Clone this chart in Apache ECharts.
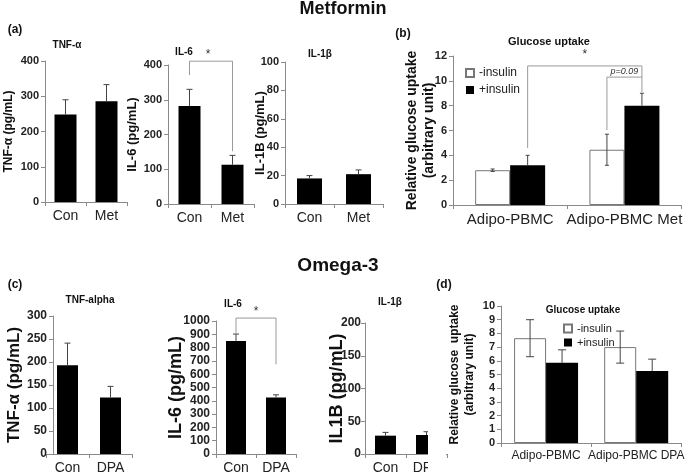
<!DOCTYPE html>
<html><head><meta charset="utf-8">
<script src="https://cdn.jsdelivr.net/npm/echarts@6/dist/echarts.min.js"></script>
<style>html,body{margin:0;padding:0;background:#fff}#c{width:685px;height:475px}</style>
</head><body><div id="c"></div>
<script>
// ---------- data ----------
const cytoCatsMet = ['Con', 'Met'];
const cytoCatsDpa = ['Con', 'DPA'];
const glucCatsMet = ['Adipo-PBMC', 'Adipo-PBMC Met'];
const glucCatsDpa = ['Adipo-PBMC', 'Adipo-PBMC DPA'];

const metTnfVals = [248, 286];  const metTnfErr = [42, 47];
const metIl6Vals = [282, 113];  const metIl6Err = [48, 27];
const metIl1Vals = [18, 21];    const metIl1Err = [2, 3];
const metGlucMinus = [2.8, 4.45]; const metGlucMinusErr = [0.1, 1.25];
const metGlucPlus = [3.2, 8.0];   const metGlucPlusErr = [0.8, 1.0];

const dpaTnfVals = [193, 123];  const dpaTnfErr = [48, 24];
const dpaIl6Vals = [850, 425];  const dpaIl6Err = [52, 20];
const dpaIl1Vals = [28, 29];    const dpaIl1Err = [5, 5];
const dpaGlucMinus = [7.65, 7.0]; const dpaGlucMinusErr = [1.35, 1.17];
const dpaGlucPlus = [5.85, 5.25]; const dpaGlucPlusErr = [0.95, 0.87];

// significance brackets: [bar level, left foot, right foot] in axis units
const metIl6Bracket = [411, 371, 152];
const metGlucBracket = [11.2, 4.6, 9.1];
const metGlucPBracket = [10.3, 6.04, 10.3];
const dpaIl6Bracket = [1022, 911, 674];

// ---------- helpers ----------
const FONT = '"Liberation Sans", Arial, sans-serif';
const AX = '#8a8a8a';

function xAx(g, cats, fs) {
  return { type: 'category', gridIndex: g, data: cats,
    axisLine: { lineStyle: { color: AX } },
    axisTick: { show: true, length: 4, lineStyle: { color: AX } },
    axisLabel: { fontSize: fs, color: '#222', margin: 7, fontFamily: FONT, interval: 0 } };
}
function yAx(g, max, interval, name, fs, nameFs, gap, offset, margin) {
  return { type: 'value', gridIndex: g, min: 0, max: max, interval: interval, offset: offset || 0,
    splitLine: { show: false },
    axisLine: { show: true, lineStyle: { color: AX } },
    axisTick: { show: true, length: 4, lineStyle: { color: AX } },
    axisLabel: { fontSize: fs, fontWeight: 'bold', color: '#222', margin: margin || 6, fontFamily: FONT,
      formatter: function (v) { return String(v); } },
    name: name, nameLocation: 'middle', nameRotate: 90, nameGap: gap, nameMoveOverlap: false,
    nameTextStyle: { fontSize: nameFs, fontWeight: 'bold', color: '#111', fontFamily: FONT, lineHeight: nameFs + 3 } };
}
function bar(g, name, vals, bw, white) {
  return { type: 'bar', name: name, xAxisIndex: g, yAxisIndex: g, data: vals, barWidth: bw, barGap: '0%',
    itemStyle: white ? { color: '#fff', borderColor: '#777', borderWidth: 1 } : { color: '#000' },
    emphasis: { disabled: true }, z: 2 };
}
function errBars(g, vals, errs, offsetPx, twoSided, cap) {
  return { type: 'custom', xAxisIndex: g, yAxisIndex: g, z: 5, silent: true,
    data: vals.map((v, i) => [i, v, errs[i]]),
    encode: { x: 0, y: 1 },
    renderItem: function (params, api) {
      const i = api.value(0), v = api.value(1), e = api.value(2);
      const t = api.coord([i, v + e]);
      const b = api.coord([i, twoSided ? v - e : v]);
      const x = t[0] + offsetPx;
      const st = { stroke: '#444', lineWidth: 1 };
      const ch = [
        { type: 'line', shape: { x1: x, y1: t[1], x2: x, y2: b[1] }, style: st },
        { type: 'line', shape: { x1: x - cap, y1: t[1], x2: x + cap, y2: t[1] }, style: st }
      ];
      if (twoSided) ch.push({ type: 'line', shape: { x1: x - cap, y1: b[1], x2: x + cap, y2: b[1] }, style: st });
      return { type: 'group', children: ch };
    } };
}
function bracket(g, levels, catL, offL, catR, offR, label, labelDx, labelDy, italic, labelFs) {
  return { type: 'custom', xAxisIndex: g, yAxisIndex: g, z: 6, silent: true, clip: false,
    data: [[catL, levels[0]]], encode: { x: 0, y: 1 },
    renderItem: function (params, api) {
      const top = api.coord([catL, levels[0]]);
      const top1 = api.coord([catR, levels[0]]);
      const l = api.coord([catL, levels[1]]);
      const r = api.coord([catR, levels[2]]);
      const xl = top[0] + offL, xr = top1[0] + offR;
      const ch = [{ type: 'polyline', shape: { points: [[xl, l[1]], [xl, top[1]], [xr, top[1]], [xr, r[1]]] },
        style: { stroke: '#999', lineWidth: 1, fill: null } }];
      ch.push({ type: 'text', x: (xl + xr) / 2 + labelDx, y: top[1] + labelDy,
        style: { text: label, fontSize: labelFs, fill: '#333', align: 'center', verticalAlign: 'middle',
          fontStyle: italic ? 'italic' : 'normal', fontFamily: FONT } });
      return { type: 'group', children: ch };
    } };
}
function ttl(text, cx, top, fs) {
  return { text: text, left: cx, top: top, textAlign: 'center', padding: 0,
    textStyle: { fontSize: fs, fontWeight: 'bold', color: '#111', fontFamily: FONT } };
}

const chart = echarts.init(document.getElementById('c'), null, { renderer: 'canvas' });
chart.setOption({
  animation: false,
  backgroundColor: '#fff',
  title: [
    ttl('Metformin', 343, 0, 18),
    ttl('Omega-3', 338, 256, 19),
    ttl('(a)', 15, 24, 12), ttl('(b)', 403, 28, 12), ttl('(c)', 15, 279, 12), ttl('(d)', 444, 279, 12),
    ttl('TNF-α', 67, 40, 10), ttl('IL-6', 184, 47, 10), ttl('IL-1β', 320, 49, 10), ttl('Glucose uptake', 549, 36, 11),
    ttl('TNF-alpha', 90, 295, 10), ttl('IL-6', 233, 299, 10), ttl('IL-1β', 390, 297, 10), ttl('Glucose uptake', 583, 305, 10)
  ],
  legend: [
    { data: ['-insulin', '+insulin'], orient: 'vertical', left: 465, top: 67, itemWidth: 8, itemHeight: 8, itemGap: 5,
      padding: 0, icon: 'rect', selectedMode: false, textStyle: { fontSize: 12, color: '#222', fontFamily: FONT } },
    { data: ['-insulin', '+insulin'], orient: 'vertical', left: 563, top: 323, itemWidth: 8, itemHeight: 8, itemGap: 3,
      padding: 0, icon: 'rect', selectedMode: false, textStyle: { fontSize: 11, color: '#222', fontFamily: FONT } }
  ],
  grid: [
    { left: 42, top: 61, width: 85, height: 141 },
    { left: 168, top: 65, width: 86, height: 139 },
    { left: 285, top: 62, width: 98, height: 142 },
    { left: 453, top: 56, width: 230, height: 149 },
    { left: 46, top: 316, width: 86, height: 141 },
    { left: 216, top: 321, width: 80, height: 135 },
    { left: 365, top: 323, width: 82, height: 133 },
    { left: 501, top: 306, width: 190, height: 137 }
  ],
  xAxis: [
    xAx(0, cytoCatsMet, 14), xAx(1, cytoCatsMet, 14), xAx(2, cytoCatsMet, 14), xAx(3, glucCatsMet, 15),
    xAx(4, cytoCatsDpa, 14), xAx(5, cytoCatsDpa, 14), xAx(6, cytoCatsDpa, 14), xAx(7, glucCatsDpa, 12)
  ],
  yAxis: [
    yAx(0, 400, 100, 'TNF-α (pg/mL)', 11, 12, 29),
    yAx(1, 400, 100, 'IL-6 (pg/mL)', 11, 13, 28),
    yAx(2, 100, 20, 'IL-1B (pg/mL)', 11, 13, 17),
    yAx(3, 12, 2, 'Relative glucose uptake\n(arbitrary unit)', 11, 14, 15),
    yAx(4, 300, 50, 'TNF-α (pg/mL)', 12, 17, 29, -7),
    yAx(5, 1000, 100, 'IL-6 (pg/mL)', 12, 18, 29),
    yAx(6, 200, 50, 'IL1B (pg/mL)', 12, 18, 17, 0, 4),
    yAx(7, 10, 1, 'Relative glucose  uptake\n(arbitrary unit)', 11, 12, 24)
  ],
  series: [
    bar(0, 'TNF', metTnfVals, 22), errBars(0, metTnfVals, metTnfErr, 0, false, 3),
    bar(1, 'IL6', metIl6Vals, 22), errBars(1, metIl6Vals, metIl6Err, 0, false, 3),
    bracket(1, metIl6Bracket, 0, 0, 1, 0, '*', -3, -6, false, 12),
    bar(2, 'IL1', metIl1Vals, 25), errBars(2, metIl1Vals, metIl1Err, 0, false, 3),
    bar(3, '-insulin', metGlucMinus, 35, true), bar(3, '+insulin', metGlucPlus, 35),
    errBars(3, metGlucMinus, metGlucMinusErr, -17.5, true, 2),
    errBars(3, metGlucPlus, metGlucPlusErr, 17.5, false, 2),
    bracket(3, metGlucBracket, 0, 17.5, 1, 17.5, '*', 0, -11, false, 12),
    bracket(3, metGlucPBracket, 1, -17.5, 1, 17.5, 'p=0.09', 0, -6, true, 9),

    bar(4, 'TNF2', dpaTnfVals, 21), errBars(4, dpaTnfVals, dpaTnfErr, 0, false, 3),
    bar(5, 'IL62', dpaIl6Vals, 20), errBars(5, dpaIl6Vals, dpaIl6Err, 0, false, 3),
    bracket(5, dpaIl6Bracket, 0, 0, 1, 0, '*', 0, -6, false, 12),
    bar(6, 'IL12', dpaIl1Vals, 21), errBars(6, dpaIl1Vals, dpaIl1Err, 0, false, 3),
    bar(7, '-insulin', dpaGlucMinus, 32, true), bar(7, '+insulin', dpaGlucPlus, 32),
    errBars(7, dpaGlucMinus, dpaGlucMinusErr, -16, true, 4),
    errBars(7, dpaGlucPlus, dpaGlucPlusErr, 16, false, 4)
  ],
  graphic: [
    { type: 'rect', shape: { x: 428, y: 380, width: 18, height: 95 }, style: { fill: '#fff' }, z: 100 }
  ]
});
</script></body></html>
